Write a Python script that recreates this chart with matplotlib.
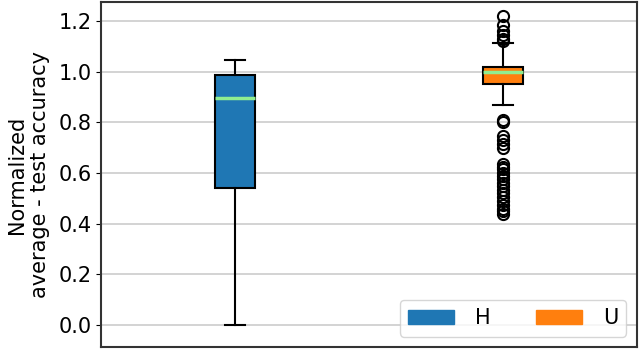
import matplotlib
matplotlib.use('Agg')
import matplotlib.pyplot as plt
import matplotlib.patches as mpatches

# box statistics
labels = ['H', 'U']
colors = ['#1f77b4', '#ff7f0e']
med = [0.896, 1.0]
q1 = [0.541, 0.952]
q3 = [0.987, 1.020]
whislo = [0.0, 0.867]
whishi = [1.046, 1.112]
fliers_h = []
fliers_u = [1.22, 1.185, 1.16, 1.145, 1.13, 1.12,
            0.81, 0.80, 0.745, 0.73, 0.715, 0.70,
            0.635, 0.625, 0.615, 0.60, 0.59, 0.575, 0.56, 0.55,
            0.535, 0.52, 0.505, 0.49, 0.475, 0.46, 0.45, 0.44]

stats = []
for i, fl in enumerate([fliers_h, fliers_u]):
    stats.append({'label': labels[i], 'med': med[i], 'q1': q1[i], 'q3': q3[i],
                  'whislo': whislo[i], 'whishi': whishi[i], 'fliers': fl})

plt.rcParams['font.size'] = 15
fig, ax = plt.subplots(figsize=(6.4, 3.52), dpi=100)
bp = ax.bxp(stats, positions=[1, 2], widths=0.15, patch_artist=True,
            medianprops=dict(color='lightgreen', linewidth=2.5),
            boxprops=dict(linewidth=1.5),
            whiskerprops=dict(linewidth=1.5),
            capprops=dict(linewidth=1.5),
            flierprops=dict(marker='o', markersize=8, markerfacecolor='none',
                            markeredgecolor='black', markeredgewidth=1.5))
for patch, c in zip(bp['boxes'], colors):
    patch.set_facecolor(c)

ax.set_xlim(0.5, 2.5)
ax.set_ylim(-0.087, 1.275)
ax.set_xticks([])
ax.set_yticks([0.0, 0.2, 0.4, 0.6, 0.8, 1.0, 1.2])
ax.yaxis.grid(True, color='#cccccc', linewidth=1.2)
ax.set_axisbelow(True)
ax.set_ylabel('Normalized\naverage - test accuracy', labelpad=6)
for s in ax.spines.values():
    s.set_linewidth(1.5)
    s.set_color('#333333')

handles = [mpatches.Patch(color=c, label=l) for c, l in zip(colors, labels)]
ax.legend(handles=handles, loc='lower right', ncol=2, handlelength=2.2,
          handletextpad=1.0, columnspacing=2.2)

fig.subplots_adjust(left=0.158, right=0.995, top=0.994, bottom=0.014)
fig.savefig('out.png')
